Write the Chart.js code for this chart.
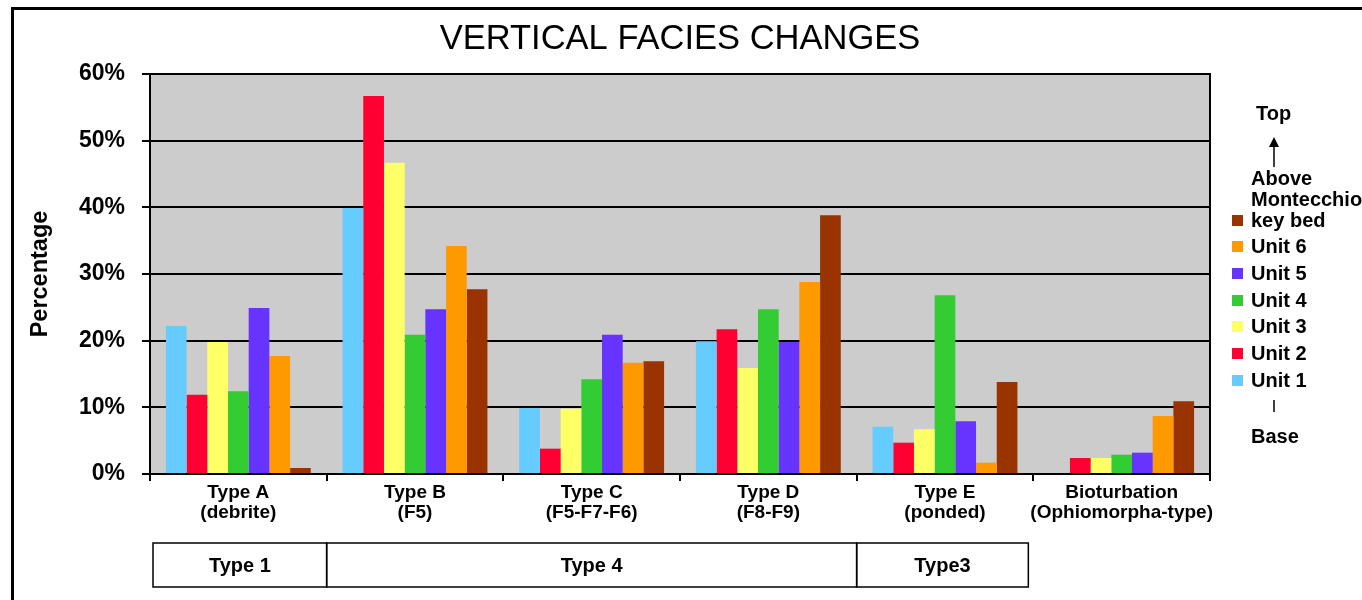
<!DOCTYPE html>
<html>
<head>
<meta charset="utf-8">
<script src="https://cdn.jsdelivr.net/npm/chart.js@4/dist/chart.umd.min.js"></script>
<style>
body{margin:0;background:#fff;overflow:hidden;font-family:"Liberation Sans",Arial,sans-serif;}
#wrap{position:relative;width:1362px;height:600px;overflow:hidden;}
#frame{position:absolute;left:11px;top:7px;width:1400px;height:700px;border:3px solid #000;}
#chart{position:absolute;left:0;top:0;}
.lg{position:absolute;font-weight:bold;font-size:20px;line-height:21px;color:#000;}
.item{display:flex;align-items:flex-end;}
.sq{width:11px;height:11px;margin:0 8px 5px 0;flex:none;}
.txt{width:112px;}
</style>
</head>
<body>
<div id="wrap">
<div id="frame"></div>
<canvas id="chart" width="1362" height="600"></canvas>
<div id="legend"></div>
</div>
<script>
// values, in percent
const categories = [['Type A','(debrite)'],['Type B','(F5)'],['Type C','(F5-F7-F6)'],['Type D','(F8-F9)'],['Type E','(ponded)'],['Bioturbation','(Ophiomorpha-type)']];
const seriesNames = ['Unit 1','Unit 2','Unit 3','Unit 4','Unit 5','Unit 6','Above Montecchio key bed'];
const seriesColors = ['#66ccff','#ff0033','#ffff66','#33cc33','#6633ff','#ff9900','#993300'];
const unit1 = [22.2, 39.9, 9.9, 19.9, 7.1, 0];
const unit2 = [11.9, 56.7, 3.8, 21.7, 4.7, 2.4];
const unit3 = [19.8, 46.7, 9.8, 15.9, 6.7, 2.4];
const unit4 = [12.4, 20.9, 14.2, 24.7, 26.8, 2.9];
const unit5 = [24.9, 24.7, 20.9, 19.8, 7.9, 3.2];
const unit6 = [17.7, 34.2, 16.7, 28.8, 1.7, 8.7];
const keyBed = [0.9, 27.7, 16.9, 38.8, 13.8, 10.9];
const yMax = 60;
const yStep = 10;
// facies groups shown in the boxes under the axis
const groupLabels = ['Type 1','Type 4','Type3'];
const groupFrom = [0,1,4];
const groupTo = [0,3,4];

const FONT = '"Liberation Sans", Arial, sans-serif';
const allSeries = [unit1,unit2,unit3,unit4,unit5,unit6,keyBed];

const plotBg = {
  id:'plotBg',
  beforeDraw(chart){
    const a=chart.chartArea, c=chart.ctx;
    c.save();
    c.fillStyle='#cccccc';
    c.fillRect(a.left,a.top,a.right-a.left,a.bottom-a.top);
    c.restore();
  },
  afterDraw(chart){
    const a=chart.chartArea, c=chart.ctx;
    c.save();
    c.strokeStyle='#000';
    c.lineWidth=2;
    c.beginPath();
    c.moveTo(a.right,a.top-1);
    c.lineTo(a.right,a.bottom+1);
    c.stroke();

    // group table, boxes share their edges
    const xs=chart.scales.x;
    const half=(xs.getPixelForValue(1)-xs.getPixelForValue(0))/2;
    const y0=543, y1=587;
    c.lineWidth=1.5;
    c.font='bold 20px '+FONT;
    c.fillStyle='#000';
    c.textAlign='center';
    c.textBaseline='middle';
    groupLabels.forEach((g,i)=>{
      let x0=xs.getPixelForValue(groupFrom[i])-half;
      let x1=xs.getPixelForValue(groupTo[i])+half;
      if(i==0)x0+=3;
      if(i==groupLabels.length-1)x1-=5;
      c.strokeRect(x0,y0,x1-x0,y1-y0);
      c.fillText(g,(x0+x1)/2,(y0+y1)/2+1);
    });
    c.restore();
  }
};

new Chart(document.getElementById('chart').getContext('2d'),{
  type:'bar',
  data:{
    labels:categories,
    datasets:allSeries.map((d,i)=>({
      label:seriesNames[i],
      data:d,
      backgroundColor:seriesColors[i],
      borderWidth:0,
      categoryPercentage:0.82,
      barPercentage:1
    }))
  },
  options:{
    responsive:false,
    animation:false,
    layout:{padding:{left:20,right:152,top:10,bottom:0}},
    plugins:{
      legend:{display:false},
      tooltip:{enabled:false},
      title:{
        display:true,
        text:'VERTICAL FACIES CHANGES',
        fullSize:false,
        color:'#000',
        font:{family:FONT,size:34.5,weight:'normal',lineHeight:1.2},
        padding:{top:9,bottom:13.6}
      }
    },
    scales:{
      x:{
        grid:{offset:true,drawOnChartArea:false,color:'#000',lineWidth:2,tickLength:7},
        border:{color:'#000',width:2},
        ticks:{color:'#000',padding:2,maxRotation:0,autoSkip:false,font:{family:FONT,size:19,weight:'bold',lineHeight:1.05}},
        afterFit(s){s.height=126;}
      },
      y:{
        min:0,max:yMax,
        grid:{color:'#000',lineWidth:2,tickLength:8},
        border:{color:'#000',width:2},
        ticks:{stepSize:yStep,color:'#000',padding:17,font:{family:FONT,size:23,weight:'bold'},callback:v=>v+'%'},
        title:{display:true,text:'Percentage',color:'#000',padding:{top:6,bottom:0},font:{family:FONT,size:23.5,weight:'bold'}},
        afterFit(s){s.width=130;}
      }
    }
  },
  plugins:[plotBg]
});

// legend on the right
const lg=document.getElementById('legend');
function put(html,left,cy,extra){
  const d=document.createElement('div');
  d.className='lg';
  d.style.left=left+'px';
  d.style.top=(cy-10.5)+'px';
  if(extra)d.style.cssText+=extra;
  d.innerHTML=html;
  lg.appendChild(d);
}
put('Top',1256,113);
put('<svg width="12" height="30"><polygon points="6,0 1,10 11,10" fill="#000"/><line x1="6" y1="8" x2="6" y2="30" stroke="#000" stroke-width="1.5"/></svg>',1268,147,'line-height:0;');
put('<svg width="4" height="12"><line x1="2" y1="0" x2="2" y2="12" stroke="#000" stroke-width="1.5"/></svg>',1272,410,'line-height:0;');
put('Base',1251,436);
seriesNames.slice().reverse().forEach((n,i)=>{
  const cy=220+i*26.67;
  const d=document.createElement('div');
  d.className='lg item';
  d.style.left='1232px';
  d.style.bottom=(600-cy-10.5)+'px';
  d.innerHTML='<div class="sq" style="background:'+seriesColors[seriesNames.length-1-i]+'"></div><div class="txt">'+n+'</div>';
  lg.appendChild(d);
});
</script>
</body>
</html>
